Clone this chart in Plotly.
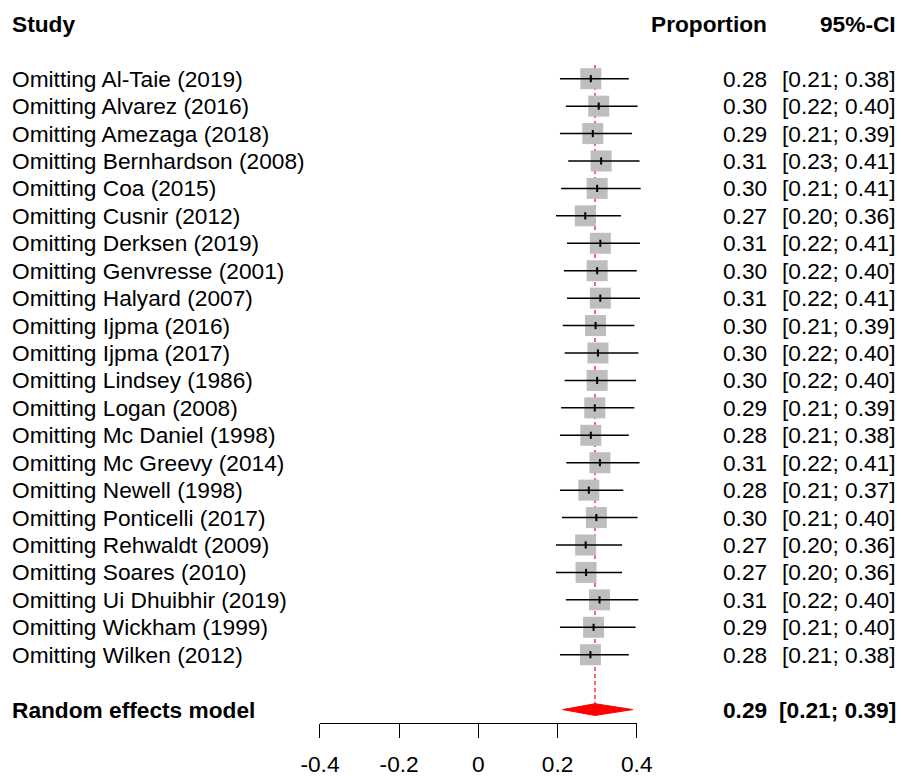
import plotly.graph_objects as go

# ---------------- data ----------------
studies = [
    "Omitting Al-Taie (2019)", "Omitting Alvarez (2016)", "Omitting Amezaga (2018)",
    "Omitting Bernhardson (2008)", "Omitting Coa (2015)", "Omitting Cusnir (2012)",
    "Omitting Derksen (2019)", "Omitting Genvresse (2001)", "Omitting Halyard (2007)",
    "Omitting Ijpma (2016)", "Omitting Ijpma (2017)", "Omitting Lindsey (1986)",
    "Omitting Logan (2008)", "Omitting Mc Daniel (1998)", "Omitting Mc Greevy (2014)",
    "Omitting Newell (1998)", "Omitting Ponticelli (2017)", "Omitting Rehwaldt (2009)",
    "Omitting Soares (2010)", "Omitting Ui Dhuibhir (2019)", "Omitting Wickham (1999)",
    "Omitting Wilken (2012)",
]
est = [0.284, 0.304, 0.289, 0.310, 0.300, 0.270, 0.308, 0.300, 0.308, 0.296, 0.302,
       0.300, 0.294, 0.284, 0.307, 0.279, 0.298, 0.271, 0.272, 0.306, 0.291, 0.283]
lower = [0.206, 0.221, 0.206, 0.227, 0.209, 0.196, 0.224, 0.216, 0.224, 0.213, 0.218,
         0.218, 0.209, 0.206, 0.222, 0.206, 0.211, 0.196, 0.196, 0.221, 0.206, 0.206]
upper = [0.380, 0.402, 0.388, 0.407, 0.410, 0.360, 0.408, 0.400, 0.408, 0.394, 0.404,
         0.398, 0.394, 0.380, 0.407, 0.366, 0.402, 0.363, 0.363, 0.404, 0.397, 0.380]
pooled_label = "Random effects model"
pooled_est = 0.2946
pooled_lower = 0.213
pooled_upper = 0.390
tick_vals = [-0.4, -0.2, 0, 0.2, 0.4]
tick_text = ["-0.4", "-0.2", "0", "0.2", "0.4"]
headers = ["Study", "Proportion", "95%-CI"]

# ---------------- layout helpers ----------------
W, H = 901, 776
PX_PER_UNIT = 396.0
ZERO_PX = 478.35
ROW0_PX = 78.7
ROW_STEP = 27.43
FONT = "Liberation Sans, Arial, Helvetica, sans-serif"
FS = 22.7

n = len(studies)
rows = list(range(1, n + 1))
pooled_row = n + 2
header_row = -1.0

x_range = [-ZERO_PX / PX_PER_UNIT, (W - ZERO_PX) / PX_PER_UNIT]
y_top = 1 - ROW0_PX / ROW_STEP
y_bot = 1 + (H - ROW0_PX) / ROW_STEP
axis_px = 723.0

fig = go.Figure()

# reference (pooled) dashed line
fig.add_trace(go.Scatter(
    x=[pooled_est, pooled_est], y=[0.5, pooled_row - 0.215],
    mode="lines", line=dict(color="red", width=1.2, dash="4px,3px"), hoverinfo="skip"))

# boxes
fig.add_trace(go.Scatter(
    x=est, y=rows, mode="markers",
    marker=dict(symbol="square", size=21, color="#bebebe", line=dict(width=0)),
    hoverinfo="skip"))

# CI lines
cx, cy = [], []
for r, lo, hi in zip(rows, lower, upper):
    cx += [lo, hi, None]
    cy += [r, r, None]
fig.add_trace(go.Scatter(x=cx, y=cy, mode="lines",
                         line=dict(color="black", width=1.5), hoverinfo="skip"))

# estimate ticks
tx, ty = [], []
for r, e in zip(rows, est):
    tx += [e, e, None]
    ty += [r - 0.13, r + 0.13, None]
fig.add_trace(go.Scatter(x=tx, y=ty, mode="lines",
                         line=dict(color="black", width=2), hoverinfo="skip"))

# diamond (on the visible axis)
dh = 0.215
fig.add_trace(go.Scatter(
    x=[pooled_lower, pooled_est, pooled_upper, pooled_est, pooled_lower],
    y=[pooled_row, pooled_row - dh, pooled_row, pooled_row + dh, pooled_row],
    mode="lines", fill="toself", fillcolor="red",
    line=dict(color="red", width=1), xaxis="x2", yaxis="y", hoverinfo="skip"))

# ---------------- text columns ----------------
STUDY_X = 10
PROP_X = 769
CI_X = 898

def ann(text, xpx, row, anchor, bold=False):
    fig.add_annotation(
        x=xpx / W, xref="paper", y=row, yref="y",
        text=f"<b>{text}</b>" if bold else text,
        xanchor=anchor, yanchor="middle", showarrow=False,
        font=dict(family=FONT, size=FS, color="black"))

ann(headers[0], STUDY_X, header_row, "left", True)
ann(headers[1], PROP_X, header_row, "right", True)
ann(headers[2], CI_X, header_row, "right", True)

for r, s, e, lo, hi in zip(rows, studies, est, lower, upper):
    ann(s, STUDY_X, r, "left")
    ann(f"{e:.2f}", PROP_X, r, "right")
    ann(f"[{lo:.2f}; {hi:.2f}]", CI_X, r, "right")

ann(pooled_label, STUDY_X, pooled_row, "left", True)
ann(f"{pooled_est:.2f}", PROP_X, pooled_row, "right", True)
ann(f"[{pooled_lower:.2f}; {pooled_upper:.2f}]", CI_X, pooled_row, "right", True)

fig.update_layout(
    template="none",
    width=W, height=H, autosize=False,
    margin=dict(l=0, r=0, t=0, b=0, pad=0, autoexpand=False),
    paper_bgcolor="white", plot_bgcolor="rgba(0,0,0,0)",
    showlegend=False,
    font=dict(family=FONT, size=FS, color="black"),
    xaxis=dict(range=x_range, visible=False, fixedrange=True, automargin=False),
    yaxis=dict(range=[y_bot, y_top], visible=False, fixedrange=True, automargin=False),
    xaxis2=dict(
        domain=[(ZERO_PX + tick_vals[0] * PX_PER_UNIT) / W, (ZERO_PX + tick_vals[-1] * PX_PER_UNIT) / W],
        range=[tick_vals[0], tick_vals[-1]],
        anchor="free", position=1 - axis_px / H, side="bottom",
        showline=True, linecolor="black", linewidth=1,
        ticks="outside", ticklen=14, tickwidth=1, tickcolor="black",
        tickvals=tick_vals, ticktext=tick_text,
        tickfont=dict(family=FONT, size=FS, color="black"),
        ticklabelstandoff=7, automargin=False,
        showgrid=False, zeroline=False, fixedrange=True),
)

fig.write_html(
    "out.html",
    config={"displayModeBar": False, "responsive": False},
    post_script="document.body.style.margin='0';document.body.style.overflow='hidden';",
)
